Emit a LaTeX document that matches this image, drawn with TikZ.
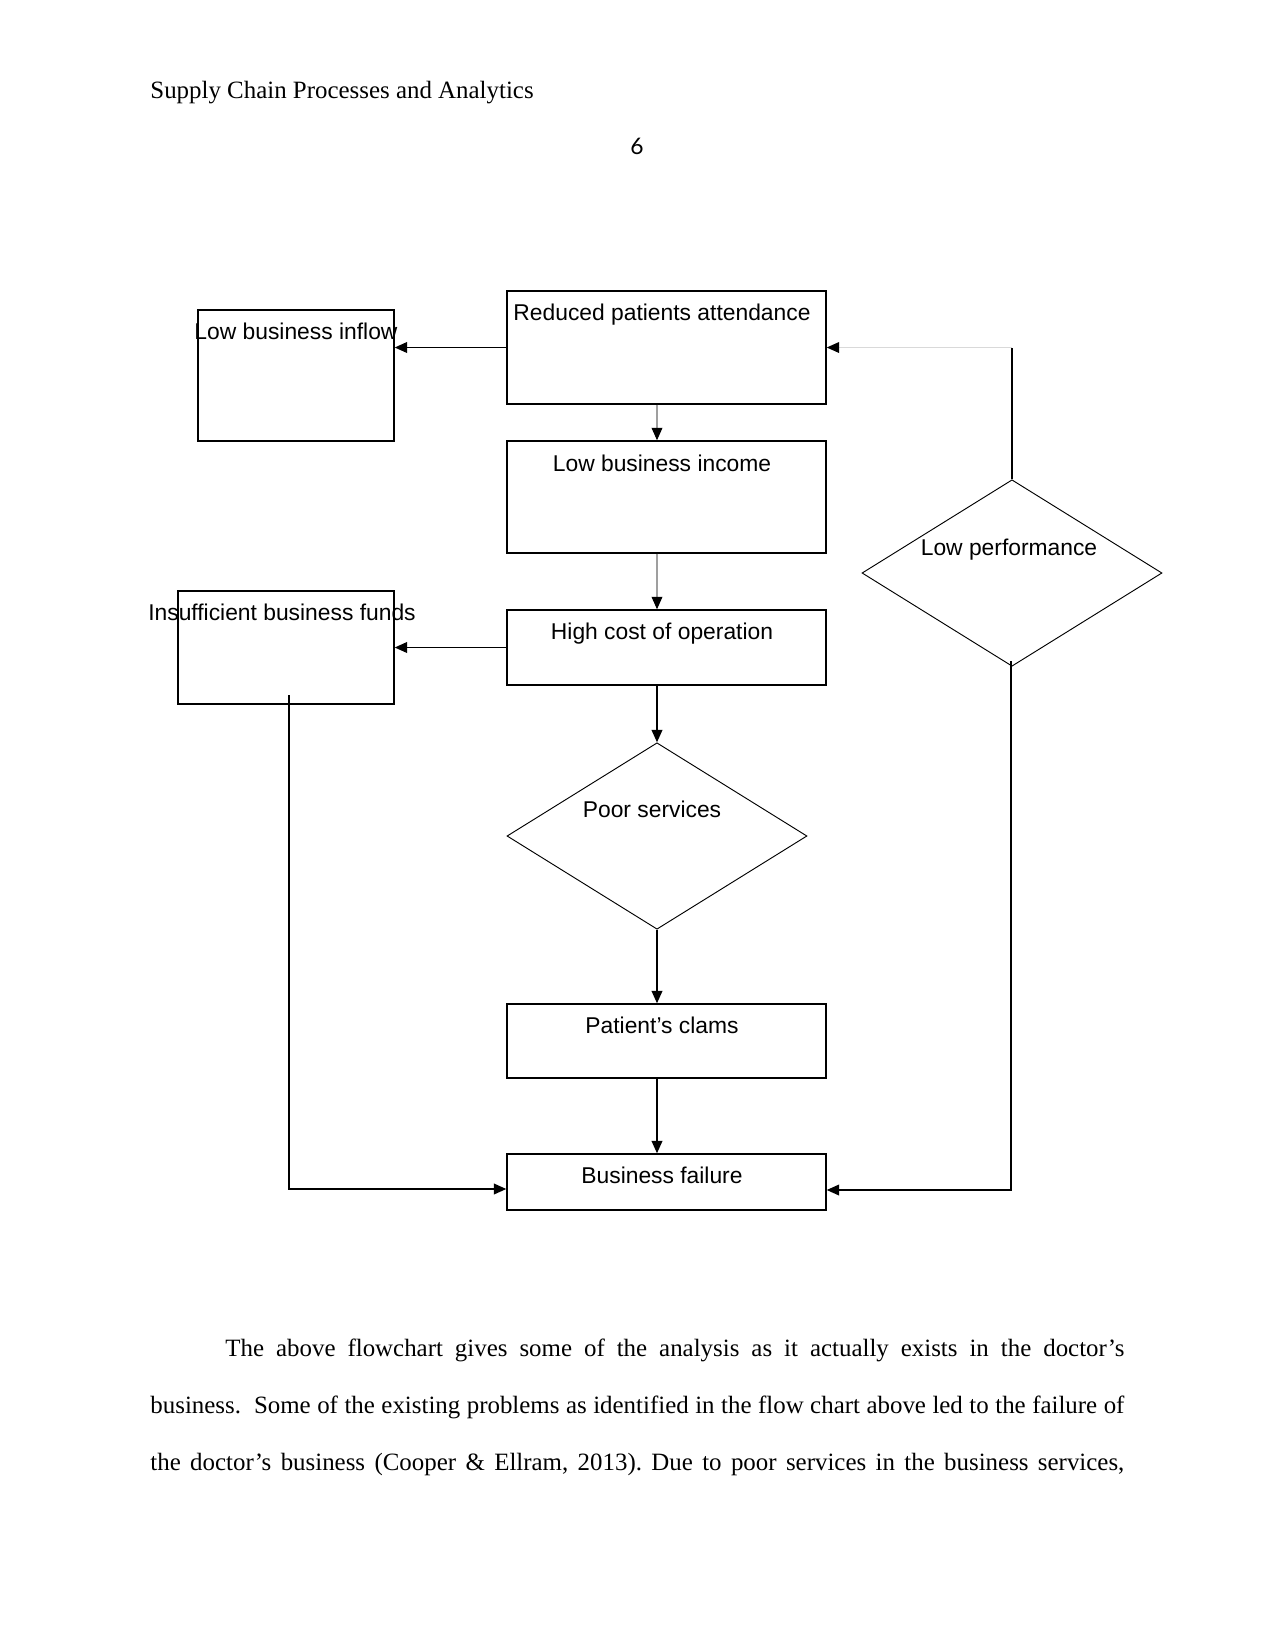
\documentclass[tikz,border=0pt]{standalone}
\usepackage{fontspec}
\setmainfont{Liberation Serif}
\newfontfamily\arialf{Liberation Sans}
\newfontfamily\numf{Lato}
\usetikzlibrary{arrows.meta,fit,shapes.geometric}
\begin{document}
\frenchspacing
\begin{tikzpicture}[x=0.48bp,y=-0.48bp,
  box/.style={draw, line width=0.7bp, inner sep=0pt},
  dia/.style={draw, diamond, line width=0.45bp, inner sep=0pt, minimum width=144bp, minimum height=89.5bp},
  lbl/.style={font=\arialf\fontsize{11}{13}\selectfont, anchor=base, inner sep=0pt},
  body/.style={font=\fontsize{12}{14}\selectfont, anchor=base west, inner sep=0pt},
  arr/.style={line width=0.7bp, -{Triangle[length=6bp,width=5.2bp]}},
  garr/.style={line width=0.5bp, draw=gray!75, -{Triangle[length=6bp,width=5.2bp,color=black,fill=black]}},
  lgarr/.style={line width=0.6bp, draw=gray!30, -{Triangle[length=6bp,width=5.2bp,color=black,fill=black]}},
  thin/.style={line width=0.5bp}
]
\fill[white] (0,0) rectangle (1275,1650);
\useasboundingbox (0,0) rectangle (1275,1650);

% header
\node[body] (hdr) at (150,98) {Supply Chain Processes and Analytics};
\node[anchor=base, inner sep=0pt, font=\numf\fontsize{11}{13}\selectfont] (pg) at (637,154) {6};

% boxes
\node[box, fit={(507,291)(826,404)}] (rpa) {};
\node[box, fit={(198,310)(394,441)}] (lbi) {};
\node[box, fit={(507,441)(826,553)}] (lbinc) {};
\node[box, fit={(507,610)(826,685)}] (hco) {};
\node[box, fit={(178,591)(394,704)}] (ibf) {};
\node[dia] (ps) at (657,836) {};
\node[dia] (lp) at (1012,573) {};
\node[box, fit={(507,1004)(826,1078)}] (pc) {};
\node[box, fit={(507,1154)(826,1210)}] (bf) {};

% labels
\node[lbl] (trpa) at (662,320) {Reduced patients attendance};
\node[lbl] (tlbi) at (296,339) {Low business inflow};
\node[lbl] (tlbinc) at (662,471) {Low business income};
\node[lbl] (thco) at (662,639) {High cost of operation};
\node[lbl] (tibf) at (282,620) {Insufficient business funds};
\node[lbl] (tps) at (652,817) {Poor services};
\node[lbl] (tlp) at (1009,555) {Low performance};
\node[lbl] (tpc) at (662,1033) {Patient’s clams};
\node[lbl] (tbf) at (662,1183) {Business failure};

% connectors
\coordinate (cx) at (657,0);
\draw[arr] (rpa.west) -- (rpa.west -| lbi.east);
\draw[garr] (rpa.south -| cx) -- (lbinc.north -| cx);
\draw[garr] (lbinc.south -| cx) -- (hco.north -| cx);
\draw[arr] (hco.west) -- (hco.west -| ibf.east);
\draw[arr] (hco.south -| cx) -- (ps.north);
\draw[arr] (ps.south) -- (pc.north -| ps.south);
\draw[arr] (pc.south -| cx) -- (bf.north -| cx);

\coordinate (ibfs) at (289,695);
\coordinate (j1) at (289,1189);
\draw[arr] (ibfs) -- (j1) -- (j1 -| bf.west);

\coordinate (j3) at (1012,347.5);
\draw[thin] (lp.north) -- (j3);
\draw[lgarr] (j3) -- (rpa.east);

\coordinate (lpb) at (1011,661);
\coordinate (j2) at (1011,1190);
\draw[arr] (lpb) -- (j2) -- (j2 -| bf.east);

% body text
\node[body] (t1) at (225,1356) {\makebox[431.5bp][s]{The above flowchart gives some of the analysis as it actually exists in the doctor’s}};
\node[body] (t2) at (150,1413) {\makebox[467.5bp][s]{business.\ \ Some of the existing problems as identified in the flow chart above led to the failure of}};
\node[body] (t3) at (150,1470) {\makebox[467.5bp][s]{the doctor’s business (Cooper \& Ellram, 2013). Due to poor services in the business services,}};
\end{tikzpicture}
\end{document}
